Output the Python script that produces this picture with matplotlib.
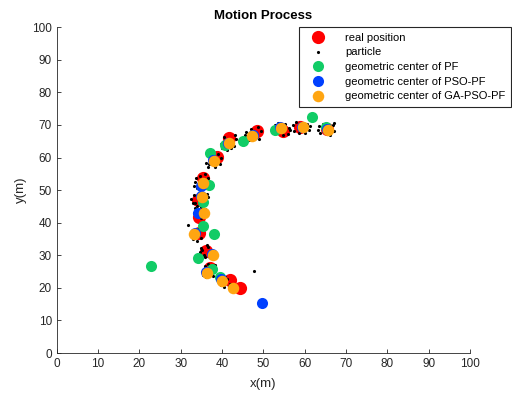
import matplotlib
matplotlib.use('Agg')
import matplotlib.pyplot as plt

plt.rcParams['font.family'] = ['Liberation Sans', 'DejaVu Sans']

# 真实位置
real_x = [44.3, 41.9, 37.0, 36.1, 34.4, 34.5, 34.1, 35.4, 38.7, 41.6, 48.4, 54.7, 58.8, 65.3]
real_y = [19.9, 22.4, 26.1, 31.3, 36.8, 41.7, 46.9, 53.8, 60.1, 66.0, 68.1, 68.1, 69.3, 68.6]

# PF 估计
pf_x = [22.8, 39.5, 37.5, 34.1, 38.0, 35.4, 35.4, 36.8, 37.1, 40.8, 45.1, 52.8, 61.7, 65.1]
pf_y = [26.7, 23.3, 25.8, 29.1, 36.5, 39.0, 46.5, 51.5, 61.5, 63.8, 65.2, 68.4, 72.4, 69.3]

# PSO-PF 估计
pso_x = [49.6, 39.8, 36.0, 37.6, 33.4, 34.2, 34.8, 35.0, 37.9, 41.5, 47.4, 54.0, 59.4, 65.5]
pso_y = [15.3, 22.6, 25.0, 30.4, 36.9, 43.0, 48.3, 51.3, 59.3, 64.6, 66.9, 69.4, 69.4, 68.6]

# GA-PSO-PF 估计
ga_x = [42.6, 39.9, 36.3, 37.8, 33.2, 35.5, 35.1, 35.4, 38.0, 41.6, 47.2, 54.2, 59.6, 65.6]
ga_y = [19.9, 22.2, 24.5, 30.2, 36.5, 42.9, 48.0, 52.3, 58.9, 64.4, 66.6, 69.0, 69.4, 68.4]

# 粒子
part_x = [39.8, 40.5, 41.3, 42.0, 40.2, 41.6, 39.5, 40.8,
          35.3, 35.6, 36.2, 37.4, 38.3, 35.9, 37.8, 36.6,
          35.0, 35.5, 36.6, 34.6, 37.0, 35.8, 36.3, 35.2,
          31.7, 32.6, 33.0, 34.8, 33.9, 35.3, 32.4, 34.5,
          33.4, 33.8, 35.8, 34.9, 33.2, 36.1, 34.0, 35.0,
          32.4, 33.1, 36.3, 36.0, 33.5, 35.4, 32.9, 36.6,
          33.2, 33.6, 36.7, 34.6, 36.9, 34.0, 35.8, 33.4,
          36.2, 36.6, 39.4, 38.4, 39.8, 37.0, 39.1, 36.9,
          40.0, 42.9, 43.3, 40.4, 42.2, 39.8, 43.0, 41.2,
          45.8, 46.2, 48.9, 49.3, 47.0, 46.5, 48.8, 45.6,
          52.8, 53.6, 56.3, 56.0, 53.2, 55.3, 54.7, 56.5,
          57.2, 57.4, 60.6, 61.0, 58.6, 60.1, 57.9, 61.2,
          63.6, 63.5, 66.9, 67.2, 64.4, 66.0, 63.2, 67.0,
          47.7]
part_y = [21.0, 20.4, 22.8, 21.2, 22.5, 20.6, 22.0, 23.4,
          24.0, 25.6, 23.2, 24.3, 26.9, 26.8, 23.6, 27.3,
          32.3, 30.0, 32.4, 31.0, 30.8, 29.4, 33.0, 31.6,
          39.3, 37.6, 35.0, 35.2, 34.5, 37.9, 36.2, 38.4,
          44.6, 42.0, 44.2, 41.3, 43.0, 42.6, 45.0, 44.8,
          47.2, 48.6, 48.7, 46.4, 45.9, 49.2, 46.0, 47.8,
          51.2, 53.6, 53.8, 54.4, 51.8, 50.6, 55.0, 52.4,
          58.4, 57.2, 58.0, 57.2, 59.8, 59.9, 61.0, 58.0,
          63.0, 63.5, 65.8, 66.4, 62.9, 64.2, 67.0, 62.4,
          67.8, 66.0, 65.8, 68.0, 68.9, 65.3, 69.4, 66.8,
          70.0, 70.5, 69.2, 67.3, 67.4, 70.4, 66.9, 68.4,
          70.0, 68.0, 70.4, 68.4, 67.4, 67.6, 70.8, 69.6,
          67.4, 69.6, 69.9, 68.2, 70.4, 67.0, 68.5, 70.6,
          25.2]

fig = plt.figure(figsize=(5.12, 3.94), dpi=100)
ax = fig.add_axes([0.111, 0.104, 0.807, 0.827])

ax.plot(real_x, real_y, 'o', color='#ff0000', ms=9.5, mec='none', label='real position')
ax.plot(part_x, part_y, '.', color='black', ms=2.5, label='particle')
ax.plot(pf_x, pf_y, 'o', color='#11cc66', ms=8, mec='none', label='geometric center of PF')
ax.plot(pso_x, pso_y, 'o', color='#0040ff', ms=8, mec='none', label='geometric center of PSO-PF')
ax.plot(ga_x, ga_y, 'o', color='#ffa511', ms=8.3, mec='none', label='geometric center of GA-PSO-PF')

ax.set_xlim(0, 100)
ax.set_ylim(0, 100)
ax.set_xticks(range(0, 101, 10))
ax.set_yticks(range(0, 101, 10))
ax.tick_params(direction='in', labelsize=8.5, length=3, width=0.6, colors='#262626')
for s in ['top', 'right']:
    ax.spines[s].set_visible(False)
for s in ['left', 'bottom']:
    ax.spines[s].set_linewidth(0.6)
    ax.spines[s].set_color('#262626')
ax.set_xlabel('x(m)', fontsize=9.5, color='#262626', labelpad=6)
ax.set_ylabel('y(m)', fontsize=9.5, color='#262626', labelpad=4)
ax.set_title('Motion Process', fontsize=9.5, fontweight='bold', pad=6)

leg = ax.legend(loc='upper right', bbox_to_anchor=(0.998, 0.931), bbox_transform=fig.transFigure,
                borderaxespad=0, fontsize=8, frameon=True, fancybox=False, edgecolor='#262626',
                framealpha=1, handletextpad=1.2, borderpad=0.5, labelspacing=0.42, handlelength=2.5)
leg.get_frame().set_linewidth(0.8)

plt.savefig('out.png', dpi=100)
